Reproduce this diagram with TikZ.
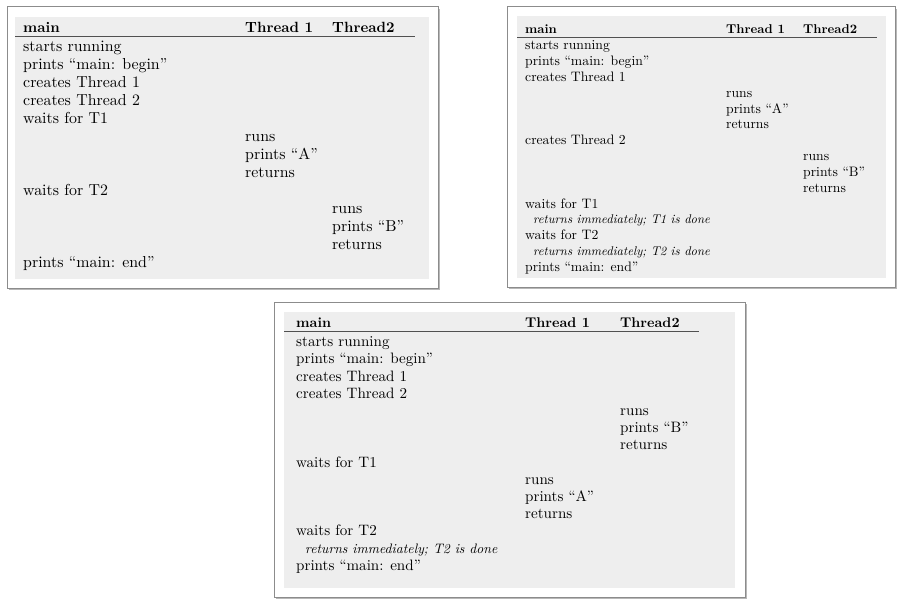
\documentclass[tikz,border=0pt]{standalone}
\usepackage{fontspec}
\setmainfont{lmroman10-regular.otf}[
  BoldFont=lmroman10-bold.otf,
  ItalicFont=lmroman10-italic.otf,
  BoldItalicFont=lmroman10-bolditalic.otf,
  Ligatures=TeX]
\usetikzlibrary{positioning}

\definecolor{sheetgray}{HTML}{EEEEEE}
\definecolor{framegray}{HTML}{8C8C8C}
\definecolor{rulegray}{HTML}{505050}

\tikzset{
  frame/.style={draw=framegray, line width=1pt, fill=white},
  frameshade/.style={fill=black!28},
  sheet/.style={fill=sheetgray},
  headrule/.style={draw=rulegray, line width=0.9pt},
  txt/.style={anchor=base west, inner sep=0pt}
}

\begin{document}
\begin{tikzpicture}[x=1pt, y=-1pt]
\useasboundingbox (0,0) rectangle (910,604);

% left panel: T1 joined first, then T2
\begin{scope}[font=\fontsize{15.9}{18}\selectfont,
  hd/.style={txt, font=\fontsize{14.8}{16}\selectfont\bfseries}]
\fill[frameshade] (9,9) rectangle (440,290);
\draw[frame] (7,7) rectangle (438,288);
\fill[sheet] (15,17) rectangle (429,279);
\node[hd] at (23,32.7) (amain) {main};
\node[hd] at (245,32.7) (athra) {Thread 1};
\node[hd] at (332,32.7) (athrb) {Thread2};
\draw[headrule] (15,36.8) -- (415,36.8);
\node[txt] at (23,51.5) (am0) {starts running};
\node[txt] at (23,69.5) (am1) {prints ``main: begin''};
\node[txt] at (23,87.5) (am2) {creates Thread 1};
\node[txt] at (23,105.5) (am3) {creates Thread 2};
\node[txt] at (23,123.5) (am4) {waits for T1};
\node[txt] at (245,141.5) (at5) {runs};
\node[txt] at (245,159.5) (at6) {prints ``A''};
\node[txt] at (245,177.5) (at7) {returns};
\node[txt] at (23,195.5) (am8) {waits for T2};
\node[txt] at (332,213.5) (au9) {runs};
\node[txt] at (332,231.5) (au10) {prints ``B''};
\node[txt] at (332,249.5) (au11) {returns};
\node[txt] at (23,267.5) (am12) {prints ``main: end''};
\end{scope}

% right panel: both threads finish before the joins
\begin{scope}[font=\fontsize{13.7}{15.8}\selectfont,
  hd/.style={txt, font=\fontsize{12.8}{14}\selectfont\bfseries},
  note/.style={txt, font=\fontsize{12.6}{14}\selectfont\itshape}]
\fill[frameshade] (509,9) rectangle (897,289);
\draw[frame] (507,7) rectangle (895,287);
\fill[sheet] (517,16) rectangle (886,278);
\node[hd] at (525,33.2) (bmain) {main};
\node[hd] at (726,33.2) (bthra) {Thread 1};
\node[hd] at (803,33.2) (bthrb) {Thread2};
\draw[headrule] (517,37.3) -- (877,37.3);
\node[txt] at (525,50) (bm0) {starts running};
\node[txt] at (525,65.8) (bm1) {prints ``main: begin''};
\node[txt] at (525,81.6) (bm2) {creates Thread 1};
\node[txt] at (726,97.4) (bt3) {runs};
\node[txt] at (726,113.2) (bt4) {prints ``A''};
\node[txt] at (726,129) (bt5) {returns};
\node[txt] at (525,144.8) (bm6) {creates Thread 2};
\node[txt] at (803,160.6) (bu7) {runs};
\node[txt] at (803,176.4) (bu8) {prints ``B''};
\node[txt] at (803,192.2) (bu9) {returns};
\node[txt] at (525,208) (bm10) {waits for T1};
\node[note] at (533,223.8) (bm11) {returns immediately; T1 is done};
\node[txt] at (525,239.6) (bm12) {waits for T2};
\node[note] at (533,255.4) (bm13) {returns immediately; T2 is done};
\node[txt] at (525,271.2) (bm14) {prints ``main: end''};
\end{scope}

% bottom panel: T2 runs first
\begin{scope}[font=\fontsize{15.1}{17.2}\selectfont,
  hd/.style={txt, font=\fontsize{14.1}{15}\selectfont\bfseries},
  note/.style={txt, font=\fontsize{13.7}{15}\selectfont\itshape}]
\fill[frameshade] (276,304) rectangle (747,599);
\draw[frame] (274,302) rectangle (745,597);
\fill[sheet] (284,312) rectangle (735,588);
\node[hd] at (296,327) (cmain) {main};
\node[hd] at (525,327) (cthra) {Thread 1};
\node[hd] at (620,327) (cthrb) {Thread2};
\draw[headrule] (284,331.5) -- (699,331.5);
\node[txt] at (296,346.7) (cm0) {starts running};
\node[txt] at (296,363.9) (cm1) {prints ``main: begin''};
\node[txt] at (296,381.1) (cm2) {creates Thread 1};
\node[txt] at (296,398.3) (cm3) {creates Thread 2};
\node[txt] at (620,415.5) (cu4) {runs};
\node[txt] at (620,432.7) (cu5) {prints ``B''};
\node[txt] at (620,449.9) (cu6) {returns};
\node[txt] at (296,467.1) (cm7) {waits for T1};
\node[txt] at (525,484.3) (ct8) {runs};
\node[txt] at (525,501.5) (ct9) {prints ``A''};
\node[txt] at (525,518.7) (ct10) {returns};
\node[txt] at (296,535.9) (cm11) {waits for T2};
\node[note] at (305,553.1) (cm12) {returns immediately; T2 is done};
\node[txt] at (296,570.3) (cm13) {prints ``main: end''};
\end{scope}
\end{tikzpicture}
\end{document}
